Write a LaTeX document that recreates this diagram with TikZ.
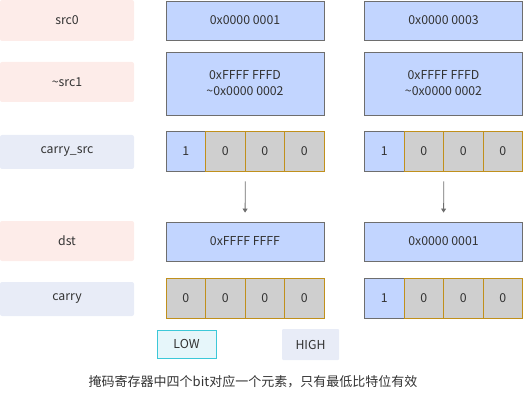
\documentclass[tikz,border=0pt]{standalone}
\usepackage{fontspec}
\setmainfont{Noto Sans CJK SC}
\usetikzlibrary{arrows.meta}

\definecolor{tagpink}{HTML}{FDECE9}
\definecolor{tagblue}{HTML}{E8ECF7}
\definecolor{regfill}{HTML}{C2D5FF}
\definecolor{regline}{HTML}{6E6E6E}
\definecolor{bitfill}{HTML}{CFCFCF}
\definecolor{bitline}{HTML}{C0901C}
\definecolor{lowfill}{HTML}{E6F6FA}
\definecolor{lowline}{HTML}{3CC8D8}
\definecolor{txtgray}{HTML}{333333}

\begin{document}
\begin{tikzpicture}[x=1pt,y=-1pt,
  every node/.style={font=\fontsize{12.3}{16}\selectfont,text=txtgray,inner sep=0pt},
  tag/.style={fill=#1,rounded corners=2pt,minimum width=134pt},
  reg/.style={draw=regline,fill=regfill,line width=0.8pt,minimum width=158pt,align=center},
  onebit/.style={draw=regline,fill=regfill,line width=0.8pt,minimum width=39.5pt,minimum height=40pt},
  zerobit/.style={draw=bitline,fill=bitfill,line width=0.8pt,minimum width=39.5pt,minimum height=40pt},
  flow/.style={draw=regline,line width=0.8pt,-{Triangle[length=4pt,width=5pt]},shorten <=10pt,shorten >=9pt}]
  \useasboundingbox (0,0) rectangle (523,404);

  % row labels
  \node[tag=tagpink,minimum height=41pt] (lsrc0) at (67,20.5) {src0};
  \node[tag=tagpink,minimum height=40pt] (lsrc1) at (67,82) {\textasciitilde src1};
  \node[tag=tagblue,minimum height=34pt] (lcsrc) at (67,152) {carry\_src};
  \node[tag=tagpink,minimum height=40pt] (ldst) at (67,241) {dst};
  \node[tag=tagblue,minimum height=34pt] (lcarry) at (67,299) {carry};

  % first group
  \node[reg,minimum height=39pt] (src0a) at (245,20.5) {0x0000 0001};
  \node[reg,minimum height=63pt] (src1a) at (245,83.5) {0xFFFF FFFD\\\textasciitilde 0x0000 0002};
  \foreach \v/\s [count=\i] in {1/onebit,0/zerobit,0/zerobit,0/zerobit}
    \node[\s] (csa\i) at ({166+39.5*\i-19.75},151) {\v};
  \node[reg,minimum height=39pt] (dsta) at (245,241.5) {0xFFFF FFFF};
  \foreach \v/\s [count=\i] in {0/zerobit,0/zerobit,0/zerobit,0/zerobit}
    \node[\s] (cya\i) at ({166+39.5*\i-19.75},298) {\v};

  % second group
  \node[reg,minimum height=39pt] (src0b) at (443.5,20.5) {0x0000 0003};
  \node[reg,minimum height=63pt] (src1b) at (443.5,83.5) {0xFFFF FFFD\\\textasciitilde 0x0000 0002};
  \foreach \v/\s [count=\i] in {1/onebit,0/zerobit,0/zerobit,0/zerobit}
    \node[\s] (csb\i) at ({364.5+39.5*\i-19.75},151) {\v};
  \node[reg,minimum height=39pt] (dstb) at (443.5,241.5) {0x0000 0001};
  \foreach \v/\s [count=\i] in {1/onebit,0/zerobit,0/zerobit,0/zerobit}
    \node[\s] (cyb\i) at ({364.5+39.5*\i-19.75},298) {\v};

  \draw[flow] (csa2.south east) -- (dsta.north);
  \draw[flow] (csb2.south east) -- (dstb.north);

  % legend
  \node[draw=lowline,fill=lowfill,line width=0.8pt,minimum width=59pt,minimum height=28pt] (low) at (186.5,344) {LOW};
  \node[fill=tagblue,rounded corners=1pt,minimum width=57pt,minimum height=31pt] (high) at (310.5,344.5) {HIGH};

  \node[font=\fontsize{13}{16}\selectfont] (note) at (253,382) {掩码寄存器中四个bit对应一个元素，只有最低比特位有效};
\end{tikzpicture}
\end{document}
